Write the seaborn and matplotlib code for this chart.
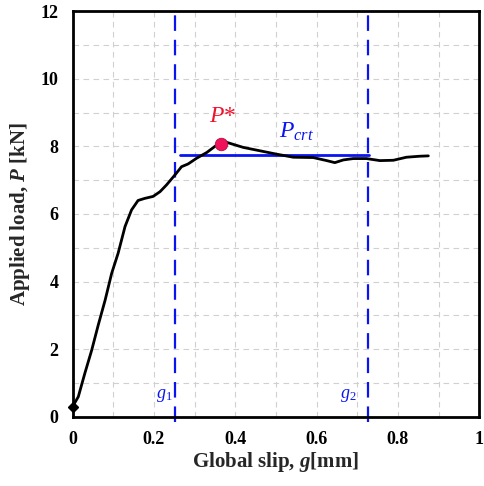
import matplotlib
matplotlib.use("Agg")
import matplotlib.pyplot as plt
import seaborn as sns
import pandas as pd
from matplotlib.ticker import MultipleLocator

slip = [0.0, 0.014, 0.030, 0.047, 0.063, 0.080, 0.096, 0.112, 0.129, 0.145, 0.161,
        0.177, 0.198, 0.215, 0.231, 0.252, 0.268, 0.284, 0.305, 0.330, 0.350, 0.366,
        0.379, 0.420, 0.461, 0.502, 0.543, 0.592, 0.625, 0.645, 0.666, 0.690, 0.723,
        0.756, 0.789, 0.821, 0.854, 0.875]
load = [0.30, 0.59, 1.28, 1.97, 2.71, 3.45, 4.24, 4.84, 5.63, 6.12, 6.40,
        6.46, 6.52, 6.66, 6.86, 7.16, 7.40, 7.48, 7.65, 7.82, 8.00, 8.11,
        8.12, 7.97, 7.87, 7.77, 7.68, 7.67, 7.58, 7.52, 7.60, 7.64, 7.64,
        7.58, 7.59, 7.68, 7.71, 7.72]
peak_x, peak_y = 0.365, 8.08
p_crt = 7.74
g1, g2 = 0.252, 0.726
xticks = [0, 0.2, 0.4, 0.6, 0.8, 1]
xticklabels = ["0", "0.2", "0.4", "0.6", "0.8", "1"]
yticks = [0, 2, 4, 6, 8, 10, 12]

sns.set_style("white")
plt.rcParams["font.family"] = ["Liberation Serif", "DejaVu Serif"]
plt.rcParams["mathtext.fontset"] = "custom"
plt.rcParams["mathtext.rm"] = "Liberation Serif"
plt.rcParams["mathtext.it"] = "Liberation Serif:italic"
plt.rcParams["mathtext.bf"] = "Liberation Serif:bold"
plt.rcParams["mathtext.bfit"] = "Liberation Serif:bold:italic"

fig = plt.figure(figsize=(4.84, 4.86), dpi=100)
ax = fig.add_axes([0.150, 0.1426, 0.840, 0.8342])

df = pd.DataFrame({"slip": slip, "load": load})
sns.lineplot(data=df, x="slip", y="load", ax=ax, color="black", lw=2.0,
             sort=False, zorder=3)
ax.plot([slip[0]], [load[0]], marker="D", color="black", ms=5, zorder=4, clip_on=False)
ax.plot([peak_x], [peak_y], marker="o", color="#F0125A", ms=9, mec="#B0103F",
        mew=0.6, zorder=5)
ax.plot([0.264, 0.730], [p_crt, p_crt], color="#0A14F0", lw=2.0, zorder=2)
for g in (g1, g2):
    ax.plot([g, g], [-0.15, 12], color="#0A14F0", lw=1.6, ls=(0, (7, 4)),
            zorder=2, clip_on=False)

ax.text(0.37, 8.9, "$P$*", color="#F0122D", fontsize=17, ha="center", va="center")
ax.text(0.55, 8.42, "$P_{crt}$", color="#0A14F0", fontsize=17, ha="center", va="center")
ax.text(0.225, 0.62, "$g_1$", color="#0A14F0", fontsize=13, ha="center", va="center")
ax.text(0.678, 0.62, "$g_2$", color="#0A14F0", fontsize=13, ha="center", va="center")

ax.set_xlim(0, 1)
ax.set_ylim(0, 12)
ax.set_xticks(xticks)
ax.set_xticklabels(xticklabels)
ax.set_yticks(yticks)
ax.xaxis.set_minor_locator(MultipleLocator(0.1))
ax.yaxis.set_minor_locator(MultipleLocator(1))
ax.grid(True, which="both", color="#D0D0D0", ls=(0, (5, 4)), lw=0.8)
ax.set_axisbelow(True)
for s in ax.spines.values():
    s.set_color("black")
    s.set_linewidth(2.0)
ax.tick_params(which="major", direction="inout", length=8, width=1.5,
               labelsize=13, pad=6, colors="black")
ax.tick_params(which="minor", direction="in", length=4, width=1.0)
for lab in ax.get_xticklabels() + ax.get_yticklabels():
    lab.set_fontweight("bold")

ax.set_xlabel(r"Global slip, $\boldsymbol{g}$[mm]", fontsize=15, fontweight="bold", labelpad=2)
ax.set_ylabel(r"Applied load, $\boldsymbol{P}$ [kN]", fontsize=15, fontweight="bold", labelpad=6)

fig.savefig("out.png", dpi=100)
